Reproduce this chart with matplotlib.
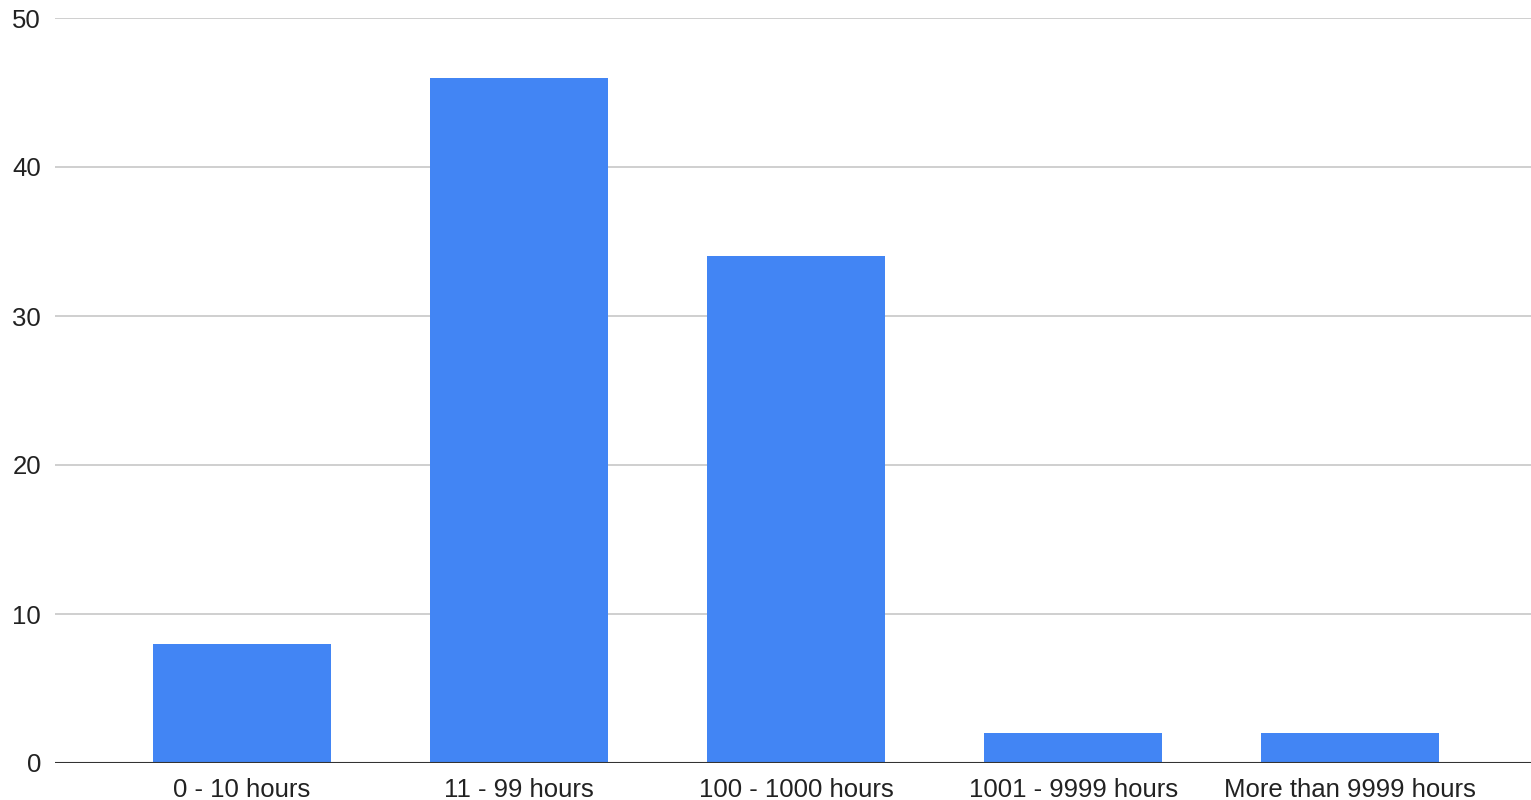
import matplotlib
matplotlib.use("Agg")
import matplotlib.pyplot as plt

categories = ["0 - 10 hours", "11 - 99 hours", "100 - 1000 hours", "1001 - 9999 hours", "More than 9999 hours"]
values = [8, 46, 34, 2, 2]
yticks = [0, 10, 20, 30, 40, 50]

plt.rcParams['font.family'] = ['Liberation Sans', 'DejaVu Sans']

fig = plt.figure(figsize=(15.31, 8.0), dpi=100)
ax = fig.add_axes([55/1531, 1 - 763/800, 1 - 55/1531, (763 - 18)/800])

x = list(range(len(categories)))
ax.bar(x, values, width=0.643, color="#4285f4", zorder=3)

ax.set_xlim(-0.675, 4.653)
ax.set_ylim(0, 50)
ax.set_yticks(yticks)
ax.set_yticklabels([str(t) for t in yticks])
ax.set_xticks(x)
ax.set_xticklabels(categories)

ax.grid(axis="y", color="#cccccc", linewidth=1.3, zorder=0)
ax.axhline(0, color="#333333", linewidth=1.5, zorder=4)
for s in ax.spines.values():
    s.set_visible(False)
ax.tick_params(axis="both", length=0, labelsize=18.5, colors="#222222")
ax.tick_params(axis="y", pad=10)
ax.tick_params(axis="x", pad=11)

fig.savefig("out.png", dpi=100)
